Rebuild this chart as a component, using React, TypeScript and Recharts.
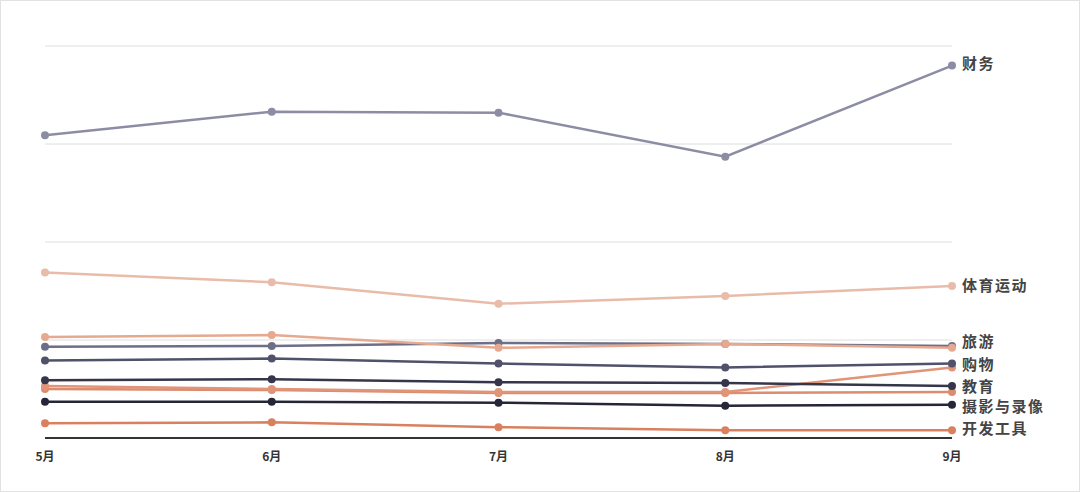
import React from "react";
import { LineChart, Line, XAxis, YAxis, CartesianGrid } from "recharts";

const months = ["5月", "6月", "7月", "8月", "9月"];
const caiwu = [30.9, 33.3, 33.2, 28.7, 38.0];
const tiyu = [16.9, 15.9, 13.7, 14.5, 15.5];
const peachA = [10.3, 10.5, 9.2, 9.6, 9.2];
const lvyou = [9.3, 9.4, 9.7, 9.6, 9.4];
const gouwu = [7.9, 8.1, 7.6, 7.2, 7.6];
const jiaoyu = [5.9, 6.0, 5.7, 5.6, 5.3];
const orangeB = [5.3, 5.0, 4.7, 4.7, 7.2];
const orangeC = [5.0, 4.9, 4.6, 4.6, 4.7];
const sheying = [3.7, 3.7, 3.6, 3.3, 3.4];
const kaifa = [1.5, 1.6, 1.1, 0.8, 0.8];
const yTicks = [0, 10, 20, 30, 40];

const data = months.map((m, i) => ({
  month: m,
  caiwu: caiwu[i],
  tiyu: tiyu[i],
  peachA: peachA[i],
  lvyou: lvyou[i],
  gouwu: gouwu[i],
  jiaoyu: jiaoyu[i],
  orangeB: orangeB[i],
  orangeC: orangeC[i],
  sheying: sheying[i],
  kaifa: kaifa[i],
}));

const series = [
  { key: "orangeC", color: "#dc8c6f", label: "", dy: 0 },
  { key: "orangeB", color: "#e09478", label: "", dy: 0 },
  { key: "kaifa", color: "#d9805f", label: "开发工具", dy: -1 },
  { key: "sheying", color: "#262639", label: "摄影与录像", dy: 2 },
  { key: "jiaoyu", color: "#35364c", label: "教育", dy: 1 },
  { key: "gouwu", color: "#50516a", label: "购物", dy: 1 },
  { key: "lvyou", color: "#6d6f88", label: "旅游", dy: -4 },
  { key: "peachA", color: "#e6a990", label: "", dy: 0 },
  { key: "tiyu", color: "#e9bba9", label: "体育运动", dy: 0 },
  { key: "caiwu", color: "#8c8da5", label: "财务", dy: -2 },
];

const makeLabel = (text: string, dy: number) => (props: any) => {
  const { x, y, index } = props;
  if (index !== months.length - 1 || !text) return null;
  return (
    <text
      x={x + 10}
      y={y + dy}
      dy="0.35em"
      fontSize={15}
      letterSpacing={1.5}
      fontWeight={600}
      fill="#444"
      fontFamily="'Noto Sans CJK SC', sans-serif"
    >
      {text}
    </text>
  );
};

export default function App() {
  return (
    <div
      style={{
        position: "fixed",
        top: 0,
        left: 0,
        width: 1080,
        height: 492,
        background: "#fff",
        boxSizing: "border-box",
        border: "1px solid #e2e2e2",
      }}
    >
      <LineChart
        width={1078}
        height={490}
        data={data}
        margin={{ top: 45, right: 127, left: 44, bottom: 22 }}
        style={{ fontFamily: "'Noto Sans CJK SC', sans-serif" }}
      >
        <CartesianGrid horizontal vertical={false} stroke="#dedede" strokeWidth={1} />
        <XAxis
          dataKey="month"
          axisLine={{ stroke: "#333", strokeWidth: 2 }}
          tickLine={false}
          tick={{ fontSize: 12, fill: "#333", fontWeight: 600 }}
          tickMargin={8}
          padding={{ left: 0, right: 0 }}
          height={31}
        />
        <YAxis hide domain={[0, 40]} ticks={yTicks} />
        {series.map((s) => (
          <Line
            key={s.key}
            dataKey={s.key}
            stroke={s.color}
            strokeWidth={2.5}
            dot={{ r: 4, fill: s.color, stroke: s.color, strokeWidth: 0 }}
            activeDot={false}
            isAnimationActive={false}
            label={makeLabel(s.label, s.dy)}
          />
        ))}
      </LineChart>
    </div>
  );
}
